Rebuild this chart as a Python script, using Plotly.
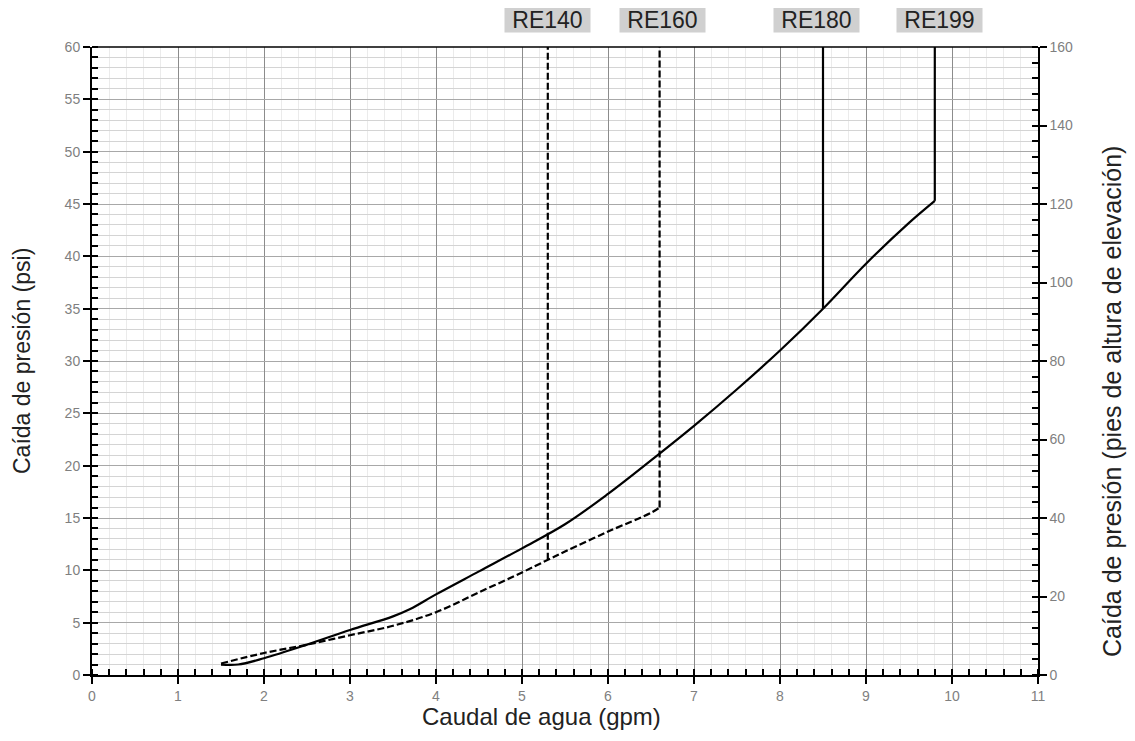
import plotly.graph_objects as go

# curva RE180 / RE199 (línea continua)
flow_solid = [1.5, 1.7, 2.0, 2.5, 3.0, 3.5, 3.7, 4.0, 4.5, 5.0, 5.5, 6.0, 6.5, 7.0, 7.5, 8.0, 8.5, 9.0, 9.5, 9.8]
psi_solid = [1.0, 1.0, 1.6, 2.9, 4.3, 5.6, 6.3, 7.7, 9.9, 12.1, 14.4, 17.3, 20.5, 23.8, 27.3, 31.0, 35.0, 39.3, 43.2, 45.3]

# curva RE140 / RE160 (línea discontinua)
flow_dash = [1.5, 2.0, 2.5, 3.0, 3.5, 4.0, 4.5, 5.0, 5.3, 5.5, 6.0, 6.5, 6.6]
psi_dash = [1.1, 2.1, 2.9, 3.8, 4.7, 6.0, 7.9, 9.8, 11.0, 11.8, 13.7, 15.5, 16.0]

# límites verticales de cada modelo
models = ["RE140", "RE160", "RE180", "RE199"]
model_flow = [5.3, 6.6, 8.5, 9.8]
model_psi_start = [11.0, 16.0, 35.0, 45.3]
model_dashed = [True, True, False, False]
label_x = [5.3, 6.63, 8.42, 9.85]

psi_max = 60
ft_max = 160

fig = go.Figure()

fig.add_trace(go.Scatter(x=flow_solid, y=psi_solid, mode="lines", line=dict(color="black", width=2.2, shape="spline"),
                         showlegend=False))
fig.add_trace(go.Scatter(x=flow_dash, y=psi_dash, mode="lines",
                         line=dict(color="black", width=2.2, dash="7px,3px", shape="spline"), showlegend=False))

for name, fx, y0, dashed in zip(models, model_flow, model_psi_start, model_dashed):
    fig.add_trace(go.Scatter(x=[fx, fx], y=[y0, psi_max], mode="lines",
                             line=dict(color="black", width=2.2, dash="7px,3px" if dashed else "solid"),
                             showlegend=False))

# eje derecho (pies)
fig.add_trace(go.Scatter(x=[None], y=[None], yaxis="y2", showlegend=False))

for name, lx in zip(models, label_x):
    fig.add_annotation(x=lx, y=1.043, xref="x", yref="paper", text=name, showarrow=False,
                       bgcolor="#d0d0d0", font=dict(size=23, color="#222", family="Liberation Sans, Arial"),
                       width=85, height=24, borderpad=0, yanchor="middle")

tickfont = dict(size=14, color="#7f7f7f", family="Liberation Sans, Arial")

# títulos de ejes como anotaciones para colocarlos como en el original
fig.add_annotation(x=0.475, y=-0.066, xref="paper", yref="paper", text="Caudal de agua (gpm)", showarrow=False,
                   font=dict(size=24, color="#222", family="Liberation Sans, Arial"), yanchor="middle")
fig.add_annotation(x=-0.074, y=0.5, xref="paper", yref="paper", text="Caída de presión (psi)", showarrow=False,
                   textangle=-90, font=dict(size=23, color="#222", family="Liberation Sans, Arial"),
                   xanchor="center")
fig.add_annotation(x=1.078, y=0.436, xref="paper", yref="paper",
                   text="Caída de presión (pies de altura de elevación)", showarrow=False, textangle=-90,
                   font=dict(size=25, color="#222", family="Liberation Sans, Arial"), xanchor="center")

fig.update_layout(
    width=1135, height=741,
    margin=dict(l=84, r=105, t=39, b=74),
    plot_bgcolor="white", paper_bgcolor="white",
    font=dict(family="Liberation Sans, Arial", color="#222"),
    xaxis=dict(range=[0, 11], dtick=1, tick0=0, showgrid=True, gridcolor="#8c8c8c", gridwidth=1,
               showline=True, linecolor="black", linewidth=2, mirror=False,
               ticks="outside", ticklen=7, tickwidth=2, tickcolor="black",
               minor=dict(dtick=0.2, showgrid=True, gridcolor="#ebebeb", ticks="inside", ticklen=6,
                          tickwidth=1.5, tickcolor="black"),
               tickfont=tickfont, zeroline=False),
    yaxis=dict(range=[0, psi_max], dtick=5, showgrid=True, gridcolor="#a8a8a8", gridwidth=1,
               showline=True, linecolor="black", linewidth=2,
               ticks="outside", ticklen=7, tickwidth=2, tickcolor="black",
               minor=dict(dtick=1, showgrid=True, gridcolor="#d4d4d4", ticks="inside", ticklen=6,
                          tickwidth=1.5, tickcolor="black"),
               tickfont=tickfont, zeroline=False),
    yaxis2=dict(range=[0, ft_max], dtick=20, overlaying="y", side="right", showgrid=False,
                showline=True, linecolor="black", linewidth=1.5,
                ticks="outside", ticklen=7, tickwidth=2, tickcolor="black",
                minor=dict(dtick=4, ticks="inside", ticklen=6, tickwidth=1.5, tickcolor="black"),
                tickfont=tickfont, zeroline=False),
    shapes=[dict(type="line", xref="paper", yref="paper", x0=0, x1=1, y0=1, y1=1,
                 line=dict(color="black", width=1.5))],
)

fig.write_html("out.html")
